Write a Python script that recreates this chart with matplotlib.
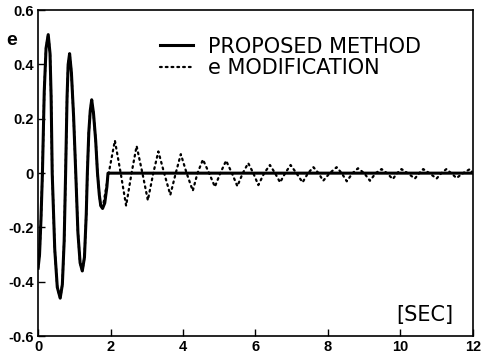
import matplotlib
matplotlib.use("Agg")
import matplotlib.pyplot as plt

plt.rcParams['font.family'] = ['Liberation Sans', 'DejaVu Sans']

# proposed method: (time in s, error e)
t_prop = [0.00, 0.04, 0.08, 0.12, 0.17, 0.22, 0.28, 0.33, 0.36, 0.39,
          0.46, 0.53, 0.61, 0.67, 0.72, 0.76, 0.80, 0.83, 0.87, 0.92,
          0.98, 1.04, 1.10, 1.16, 1.22, 1.28, 1.33, 1.36, 1.40, 1.44,
          1.48, 1.53, 1.59, 1.64, 1.69, 1.73, 1.78, 1.84, 1.90, 1.93, 12.0]
e_prop = [-0.35, -0.30, -0.17, 0.00, 0.30, 0.46, 0.51, 0.44, 0.28, 0.00,
          -0.28, -0.42, -0.46, -0.41, -0.25, 0.00, 0.28, 0.40, 0.44, 0.37,
          0.21, 0.00, -0.22, -0.33, -0.36, -0.31, -0.15, 0.00, 0.15, 0.23,
          0.27, 0.22, 0.12, 0.00, -0.08, -0.12, -0.13, -0.11, -0.05, 0.00, 0.00]

# e-modification: same start, then a slowly decaying oscillation
t_emod = t_prop[:37] + [1.95, 2.12, 2.28, 2.43, 2.58, 2.72, 2.88, 3.03, 3.18, 3.32,
                        3.48, 3.65, 3.80, 3.94, 4.10, 4.27, 4.40, 4.55, 4.72, 4.88,
                        5.03, 5.19, 5.35, 5.50, 5.65, 5.80, 5.94, 6.08, 6.24, 6.40,
                        6.54, 6.68, 6.82, 6.97, 7.13, 7.30, 7.45, 7.60, 7.74, 7.87,
                        8.05, 8.24, 8.38, 8.52, 8.68, 8.83, 9.00, 9.16, 9.32, 9.48,
                        9.63, 9.79, 9.91, 10.03, 10.20, 10.40, 10.52, 10.63, 10.80, 11.00,
                        11.13, 11.27, 11.40, 11.55, 11.73, 11.92, 12.00]
e_emod = e_prop[:37] + [0.0, 0.12, 0.0, -0.12, 0.0, 0.10, 0.0, -0.10, 0.0, 0.08,
                        0.0, -0.08, 0.0, 0.07, 0.0, -0.065, 0.0, 0.05, 0.0, -0.05,
                        0.0, 0.046, 0.0, -0.048, 0.0, 0.037, 0.0, -0.044, 0.0, 0.03,
                        0.0, -0.034, 0.0, 0.03, 0.0, -0.034, 0.0, 0.022, 0.0, -0.028,
                        0.0, 0.022, 0.0, -0.03, 0.0, 0.018, 0.0, -0.028, 0.0, 0.015,
                        0.0, -0.022, 0.0, 0.015, 0.0, -0.02, 0.0, 0.015, 0.0, -0.02,
                        0.0, 0.015, 0.0, -0.018, 0.0, 0.015, 0.0]

xticks = [0, 2, 4, 6, 8, 10, 12]
yticks = [-0.6, -0.4, -0.2, 0, 0.2, 0.4, 0.6]
yticklabels = ['-0.6', '-0.4', '-0.2', '0', '0.2', '0.4', '0.6']

fig = plt.figure(figsize=(4.82, 3.63), dpi=100)
ax = fig.add_axes([0.079, 0.074, 0.902, 0.898])

ax.plot(t_emod, e_emod, color='black', lw=1.6, linestyle=(0, (0.8, 1.8)),
        dash_capstyle='round', label='e MODIFICATION')
ax.plot(t_prop, e_prop, color='black', lw=2.2, label='PROPOSED METHOD')

ax.set_xlim(0, 12)
ax.set_ylim(-0.6, 0.6)
ax.set_xticks(xticks)
ax.set_yticks(yticks)
ax.set_yticklabels(yticklabels)
ax.tick_params(direction='in', length=5, width=1, labelsize=10.5, pad=3)
for lab in ax.get_xticklabels() + ax.get_yticklabels():
  lab.set_fontweight('bold')
for s in ax.spines.values():
  s.set_linewidth(1.2)

handles, labels = ax.get_legend_handles_labels()
ax.legend(handles[::-1], labels[::-1], loc='upper left', bbox_to_anchor=(0.262, 0.944),
          frameon=False, prop={'family': 'DejaVu Sans', 'size': 15},
          handlelength=1.55, handletextpad=0.75, labelspacing=0.05, borderaxespad=0)

fig.text(0.014, 0.876, 'e', fontsize=14, fontweight='bold')
ax.text(0.955, 0.035, '[SEC]', transform=ax.transAxes, fontsize=15,
        family='DejaVu Sans', ha='right', va='bottom')

fig.savefig('out.png', dpi=100)
